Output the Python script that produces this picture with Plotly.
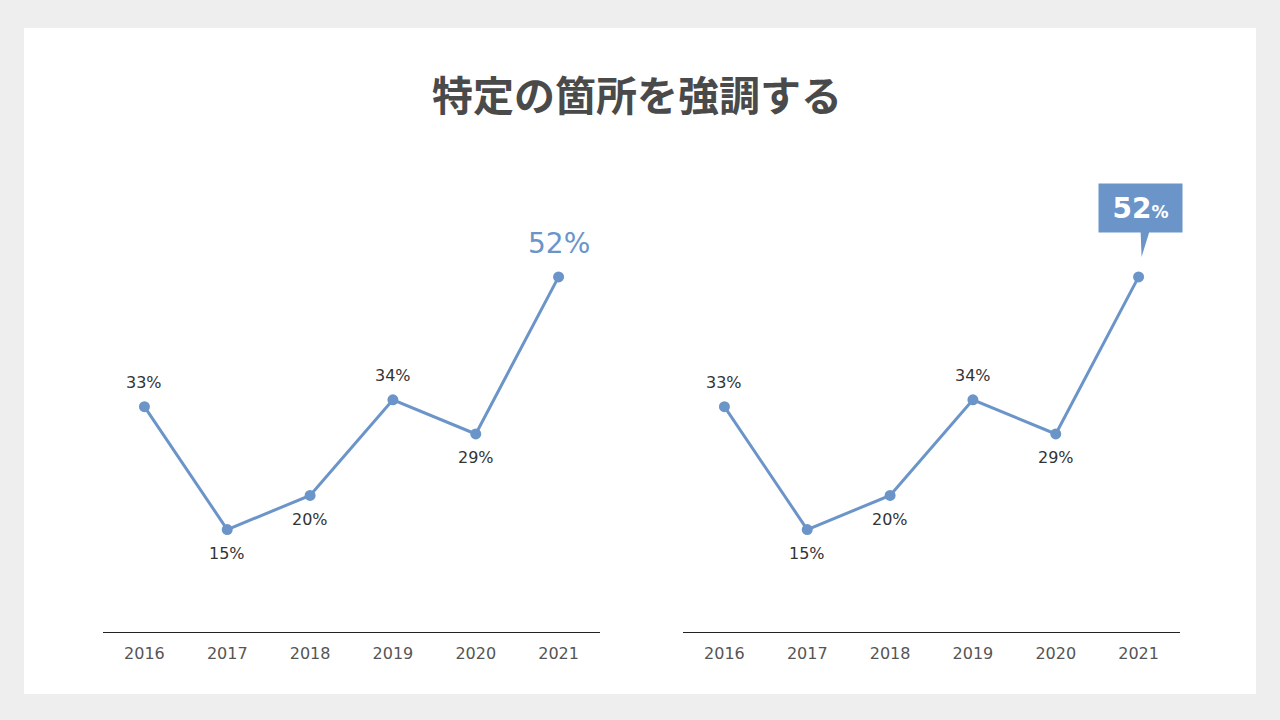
import plotly.graph_objects as go

# ---- data ----
years = ["2016", "2017", "2018", "2019", "2020", "2021"]
values = [33, 15, 20, 34, 29, 52]
label_side = ["above", "below", "below", "above", "below", "highlight"]
title_text = "特定の箇所を強調する"

LINE = "#6b95c9"
W, H = 1280, 720

# layout (pixels)
plot_top, plot_bottom = 154, 632
left_dom = (103, 600)
right_dom = (683, 1180)
y_range = [0, 70]

xs = list(range(len(years)))

fig = go.Figure()

for dom, xa, ya in [(left_dom, "x", "y"), (right_dom, "x2", "y2")]:
    fig.add_trace(go.Scatter(
        x=xs, y=values, mode="lines+markers",
        line=dict(color=LINE, width=3),
        marker=dict(color=LINE, size=11),
        xaxis=xa, yaxis=ya, hoverinfo="skip", showlegend=False,
    ))
    for xi, v, side in zip(xs, values, label_side):
        if side == "highlight":
            continue
        fig.add_annotation(
            x=xi, y=v, xref=xa, yref=ya, text=f"{v}%", showarrow=False,
            xanchor="center", yanchor="middle",
            yshift=24 if side == "above" else -24,
            font=dict(family="DejaVu Sans", size=16, color="#333333"),
        )

axis_common = dict(
    type="linear", showgrid=False, zeroline=False, showline=True,
    linecolor="#222222", linewidth=1, ticks="", ticklabelstandoff=7,
    tickmode="array", tickvals=xs, ticktext=years,
    tickfont=dict(family="DejaVu Sans", size=16, color="#555555"),
    range=[-0.5, len(years) - 0.5], fixedrange=True,
)
yaxis_common = dict(visible=False, range=y_range, fixedrange=True)

fig.update_layout(
    width=W, height=H,
    margin=dict(l=0, r=0, t=0, b=0),
    paper_bgcolor="#eeeeee", plot_bgcolor="rgba(0,0,0,0)",
    xaxis=dict(domain=[left_dom[0] / W, left_dom[1] / W], anchor="y", **axis_common),
    xaxis2=dict(domain=[right_dom[0] / W, right_dom[1] / W], anchor="y2", **axis_common),
    yaxis=dict(domain=[1 - plot_bottom / H, 1 - plot_top / H], anchor="x", **yaxis_common),
    yaxis2=dict(domain=[1 - plot_bottom / H, 1 - plot_top / H], anchor="x2", **yaxis_common),
)

# white panel
fig.add_shape(type="rect", xref="paper", yref="paper",
              x0=24 / W, x1=1256 / W, y0=1 - 694 / H, y1=1 - 28 / H,
              fillcolor="white", line=dict(width=0), layer="below")

# title
fig.add_annotation(
    x=0.498, y=1 - 93 / H, xref="paper", yref="paper", showarrow=False,
    xanchor="center", yanchor="middle",
    text=f"<b>{title_text}</b>",
    font=dict(family="Noto Sans CJK JP", size=41, color="#4a4a4a"),
)

# highlighted last value
hi_idx = len(values) - 1
hi_val = values[hi_idx]

# left: big blue label
fig.add_annotation(
    x=hi_idx, y=hi_val, xref="x", yref="y", showarrow=False, yshift=33,
    xanchor="center", yanchor="middle",
    text=f"{hi_val}%",
    font=dict(family="DejaVu Sans", size=28, color=LINE),
)

# right: callout box
fig.add_annotation(
    x=hi_idx, y=hi_val, xref="x2", yref="y2", showarrow=False,
    xanchor="center", yanchor="middle",
    yshift=69, xshift=1.5, width=83, height=48, bgcolor=LINE, borderpad=0,
    text=f"<b>{hi_val}</b><span style='font-size:17px'><b>%</b></span>",
    font=dict(family="DejaVu Sans", size=28, color="white"),
)

# tail of callout, computed from the point's pixel position
def px_x(idx, dom):
    step = (dom[1] - dom[0]) / len(years)
    return dom[0] + step * (idx + 0.5)

def px_y(v):
    return plot_bottom - (v - y_range[0]) / (y_range[1] - y_range[0]) * (plot_bottom - plot_top)

cx, cy = px_x(hi_idx, right_dom), px_y(hi_val)
box_bottom = cy - 69 + 24
tail = [(cx + 2, box_bottom - 1), (cx + 11, box_bottom - 1), (cx + 3, cy - 20)]
path = "M " + " L ".join(f"{x / W},{1 - y / H}" for x, y in tail) + " Z"
fig.add_shape(type="path", xref="paper", yref="paper", path=path,
              fillcolor=LINE, line=dict(width=0))

fig.write_html("out.html")
